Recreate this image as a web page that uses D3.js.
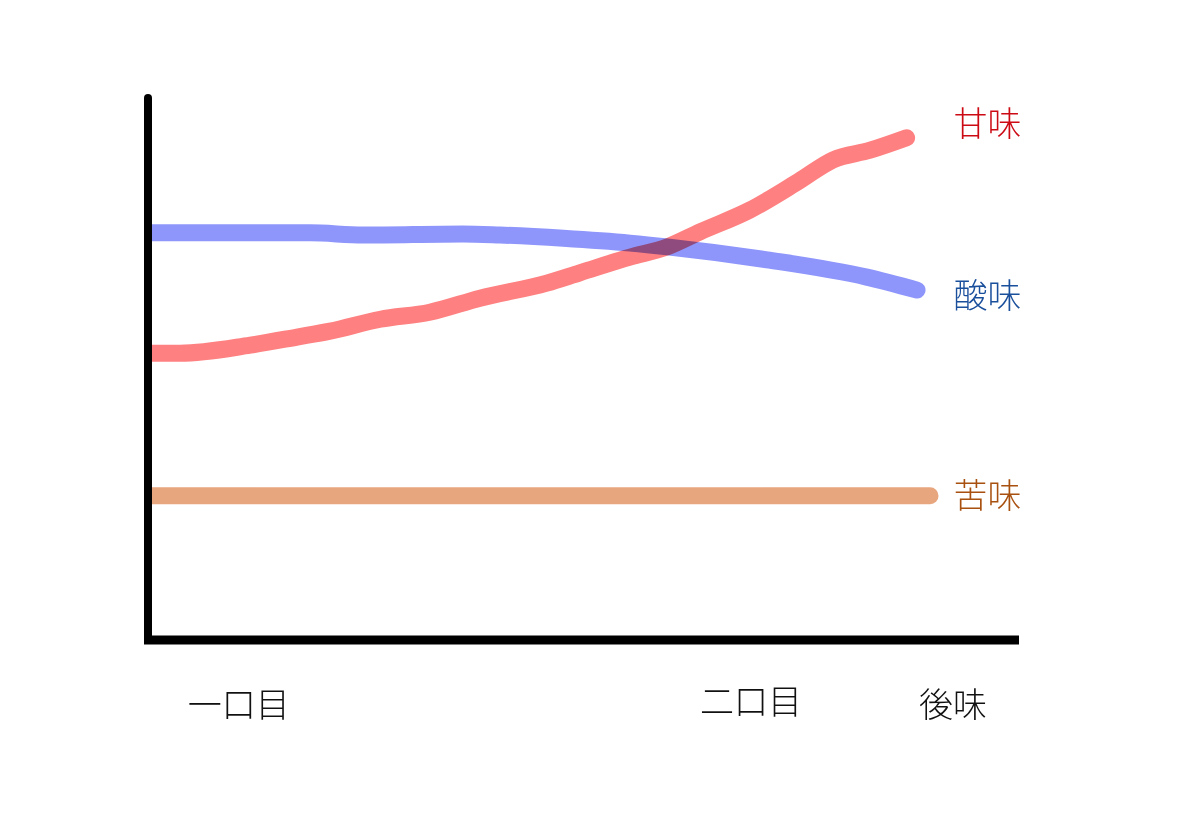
<!DOCTYPE html>
<html>
<head>
<meta charset="utf-8">
<script src="https://cdn.jsdelivr.net/npm/d3@7"></script>
<style>
  body { margin: 0; background: #fff; }
  text { font-family: "Noto Sans CJK JP", "Noto Sans", sans-serif; font-weight: 300; }
</style>
</head>
<body>
<div id="chart"></div>
<script>
const width = 1200;
const height = 813;

// stages along the tasting
var stages = ["一口目", "二口目", "後味"];
var stagePos = [10.4, 69.5, 92.8];

// series (x: 0-100 along the time axis, y: 0-100 intensity)
var sweetX = [0.5, 3.7, 11.8, 17.2, 21.0, 26.8, 32.5, 38.3, 46.0, 49.8, 55.6, 59.9, 63.7, 69.4, 75.1, 79.0, 83.3, 87.5];
var sweetY = [53.1, 53.1, 54.6, 56.1, 57.2, 59.4, 60.7, 63.3, 66.1, 68.0, 70.9, 72.8, 75.6, 79.6, 85.0, 88.9, 90.7, 93.0];

var sourX = [0.5, 18.7, 24.8, 36.3, 40.6, 47.9, 55.6, 59.9, 71.4, 82.9, 88.7];
var sourY = [75.4, 75.4, 75.0, 75.2, 75.0, 74.4, 73.5, 72.8, 70.4, 67.2, 64.8];

var bitterX = [0.5, 45, 90.2];
var bitterY = [26.7, 26.7, 26.7];

var series = [
  {name: "甘味", xs: sweetX, ys: sweetY, stroke: "#ff8080", text: "#cc0a14", dy: -16},
  {name: "酸味", xs: sourX, ys: sourY, stroke: "#8f96fb", text: "#1a4f9c", dy: 3},
  {name: "苦味", xs: bitterX, ys: bitterY, stroke: "#e8a67f", text: "#a8500f", dy: -2}
];

var margin = {left: 148, right: 185, top: 100, bottom: 173};

var x = d3.scaleLinear().domain([0, 100]).range([margin.left, width - margin.right]);
var y = d3.scaleLinear().domain([0, 100]).range([height - margin.bottom, margin.top]);

var svg = d3.select("#chart").append("svg")
  .attr("width", width).attr("height", height);

svg.append("clipPath").attr("id", "plot")
  .append("rect")
  .attr("x", margin.left).attr("y", 0)
  .attr("width", width - margin.left).attr("height", height);

var line = d3.line()
  .x((d) => x(d[0]))
  .y((d) => y(d[1]))
  .curve(d3.curveMonotoneX);

var g = svg.append("g").attr("clip-path", "url(#plot)");

g.selectAll("path")
  .data(series)
  .enter()
  .append("path")
  .attr("d", (s) => line(d3.zip(s.xs, s.ys)))
  .attr("fill", "none")
  .attr("stroke", (s) => s.stroke)
  .attr("stroke-width", 17)
  .attr("stroke-linecap", "round")
  .attr("stroke-linejoin", "round")
  .style("mix-blend-mode", "multiply");

// series labels at the right end
svg.selectAll("text.label")
  .data(series)
  .enter()
  .append("text")
  .attr("class", "label")
  .attr("x", x(92.9))
  .attr("y", (s) => y(s.ys[s.ys.length - 1]) + s.dy)
  .attr("dominant-baseline", "central")
  .attr("font-size", 34)
  .attr("fill", (s) => s.text)
  .text((s) => s.name);

// axes
svg.append("line")
  .attr("x1", x(0)).attr("x2", x(0))
  .attr("y1", y(100) - 2).attr("y2", y(0))
  .attr("stroke", "#000").attr("stroke-width", 8)
  .attr("stroke-linecap", "round");

svg.append("line")
  .attr("x1", x(0) - 4).attr("x2", x(100) + 4)
  .attr("y1", y(0)).attr("y2", y(0))
  .attr("stroke", "#000").attr("stroke-width", 9);

var xAxis = d3.axisBottom(x)
  .tickValues(stagePos)
  .tickFormat((d, i) => stages[i])
  .tickSize(0)
  .tickPadding(0);

var ax = svg.append("g")
  .attr("transform", "translate(0," + (y(0) + 62) + ")")
  .call(xAxis);

ax.select(".domain").remove();
ax.selectAll("text")
  .attr("font-size", 34)
  .attr("fill", "#111")
  .attr("dy", null)
  .attr("dominant-baseline", "central")
  .attr("transform", (d, i) => i == 1 ? "translate(0,-3)" : null);
</script>
</body>
</html>
